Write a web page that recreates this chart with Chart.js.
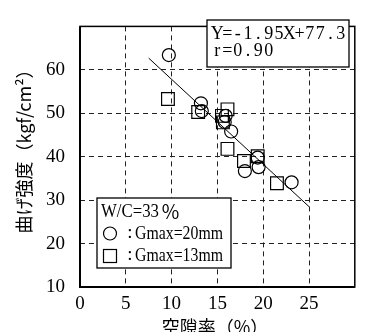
<!DOCTYPE html>
<html>
<head>
<meta charset="utf-8">
<script src="https://cdn.jsdelivr.net/npm/chart.js@4"></script>
<style>
html, body { margin: 0; padding: 0; background: #fff; }
</style>
</head>
<body>
<canvas id="chart" width="365" height="332"></canvas>
<script>
// circles: Gmax=20mm
const circleX = [9.7, 13.2, 13.3, 15.9, 15.8, 16.5, 18.0, 19.5, 19.4, 23.1];
const circleY = [63.4, 52.3, 50.5, 49.4, 48.0, 45.8, 36.7, 37.6, 39.8, 34.1];
// squares: Gmax=13mm
const squareX = [9.6, 12.9, 16.1, 15.5, 15.6, 16.1, 17.9, 19.4, 21.5];
const squareY = [53.3, 50.3, 50.9, 49.4, 47.9, 41.8, 39.0, 40.1, 33.9];
// regression line end points
const fitX = [7.5, 25];
const fitY = [62.7, 28.5];

const xTicks = [0, 5, 10, 15, 20, 25];
const yTicks = [10, 20, 30, 40, 50, 60];
const eqLines = ["Y=-1.95X+77.3", "r=0.90"];
const legendTitle = "W/C=33%";
const seriesNames = ["Gmax=20mm", "Gmax=13mm"];
const xTitle = "空隙率（%）";
const yTitle = "曲げ強度（kgf/cm²）";

const toPoints = (xs, ys) => xs.map((x, i) => ({ x: x, y: ys[i] }));

// fixed pitch text, like the half-width typewriter face of the original
function drawPitched(ctx, text, x, y, pitch) {
    ctx.textAlign = "center";
    for (const ch of text) {
        ctx.fillText(ch, x + pitch / 2, y);
        x += pitch;
    }
}

// text squeezed or stretched to a given width
function drawFitted(ctx, text, x, y, width) {
    const w = ctx.measureText(text).width;
    ctx.save();
    ctx.textAlign = "left";
    ctx.translate(x, y);
    ctx.scale(width / w, 1);
    ctx.fillText(text, 0, 0);
    ctx.restore();
}

const decorations = {
    id: "decorations",
    afterDraw(chart) {
        const ctx = chart.ctx;
        const a = chart.chartArea;
        ctx.save();

        // frame
        ctx.strokeStyle = "#000";
        ctx.lineWidth = 1.5;
        ctx.strokeRect(a.left, a.top, a.right - a.left, a.bottom - a.top);
        ctx.lineWidth = 2;
        ctx.beginPath();
        ctx.moveTo(a.left, a.top);
        ctx.lineTo(a.left, a.bottom);
        ctx.lineTo(a.right, a.bottom);
        ctx.stroke();

        // equation box
        ctx.fillStyle = "#fff";
        ctx.fillRect(207, 20, 142, 47);
        ctx.lineWidth = 1.3;
        ctx.strokeRect(207, 20, 142, 47);
        ctx.fillStyle = "#000";
        ctx.font = '18px "Liberation Serif"';
        ctx.textBaseline = "middle";
        drawPitched(ctx, eqLines[0], 212, 34, 10.3);
        drawPitched(ctx, eqLines[1], 212, 51, 10.3);

        // legend box
        ctx.fillStyle = "#fff";
        ctx.fillRect(97, 198, 134, 70);
        ctx.strokeRect(97, 198, 134, 70);
        ctx.fillStyle = "#000";
        ctx.font = '19px "Liberation Serif"';
        drawFitted(ctx, legendTitle.slice(0, -1), 101, 212, 58);
        ctx.font = '19px "Noto Sans CJK JP"';
        ctx.textAlign = "left";
        ctx.fillText("％", 161, 212);
        ctx.font = '19px "Liberation Serif"';
        ctx.textAlign = "center";
        ctx.fillText(":", 130, 233);
        ctx.fillText(":", 130, 255);
        drawFitted(ctx, seriesNames[0], 135, 234, 88);
        drawFitted(ctx, seriesNames[1], 135, 256, 88);
        ctx.lineWidth = 1.2;
        ctx.beginPath();
        ctx.arc(110, 233.5, 6.5, 0, Math.PI * 2);
        ctx.stroke();
        ctx.strokeRect(103.5, 249.5, 13, 13);

        // axis titles
        ctx.font = '18px "Noto Sans CJK JP"';
        ctx.textAlign = "center";
        ctx.textBaseline = "middle";
        ctx.fillText(xTitle, 215, 327);
        ctx.translate(24, 147);
        ctx.rotate(-Math.PI / 2);
        ctx.fillText(yTitle, 0, 0);
        ctx.restore();
    }
};

const gridColor = (c) => (c.tick && (c.tick.value === c.scale.min || c.tick.value === c.scale.max)) ? "rgba(0,0,0,0)" : "#222";

new Chart(document.getElementById("chart"), {
    type: "scatter",
    data: {
        datasets: [
            {
                label: seriesNames[0],
                data: toPoints(circleX, circleY),
                pointStyle: "circle",
                pointRadius: 6.5,
                backgroundColor: "rgba(0,0,0,0)",
                borderColor: "#000",
                borderWidth: 1.2,
            },
            {
                label: seriesNames[1],
                data: toPoints(squareX, squareY),
                pointStyle: "rect",
                pointRadius: 9,
                backgroundColor: "rgba(0,0,0,0)",
                borderColor: "#000",
                borderWidth: 1.2,
            },
            {
                type: "line",
                label: "fit",
                data: toPoints(fitX, fitY),
                borderColor: "#000",
                borderWidth: 1,
                pointRadius: 0,
                fill: false,
            },
        ],
    },
    options: {
        responsive: false,
        animation: false,
        devicePixelRatio: 1,
        layout: { padding: { top: 8, right: 5, left: 0, bottom: 0 } },
        plugins: {
            legend: { display: false },
            tooltip: { enabled: false },
        },
        scales: {
            x: {
                type: "linear",
                min: 0,
                max: 30,
                afterFit: (s) => { s.height = 45; },
                ticks: {
                    stepSize: 5,
                    padding: 6,
                    color: "#000",
                    font: { family: "Liberation Serif", size: 19 },
                    callback: (v) => xTicks.includes(v) ? String(v) : "",
                },
                grid: { color: gridColor, lineWidth: 1, drawTicks: false },
                border: { display: false, dash: [5, 4] },
            },
            y: {
                type: "linear",
                min: 10,
                max: 70,
                afterFit: (s) => { s.width = 80; },
                ticks: {
                    stepSize: 10,
                    padding: 15,
                    color: "#000",
                    font: { family: "Liberation Serif", size: 19 },
                    callback: (v) => yTicks.includes(v) ? String(v) : "",
                },
                grid: { color: gridColor, lineWidth: 1, drawTicks: false },
                border: { display: false, dash: [5, 4] },
            },
        },
    },
    plugins: [decorations],
});
</script>
</body>
</html>
